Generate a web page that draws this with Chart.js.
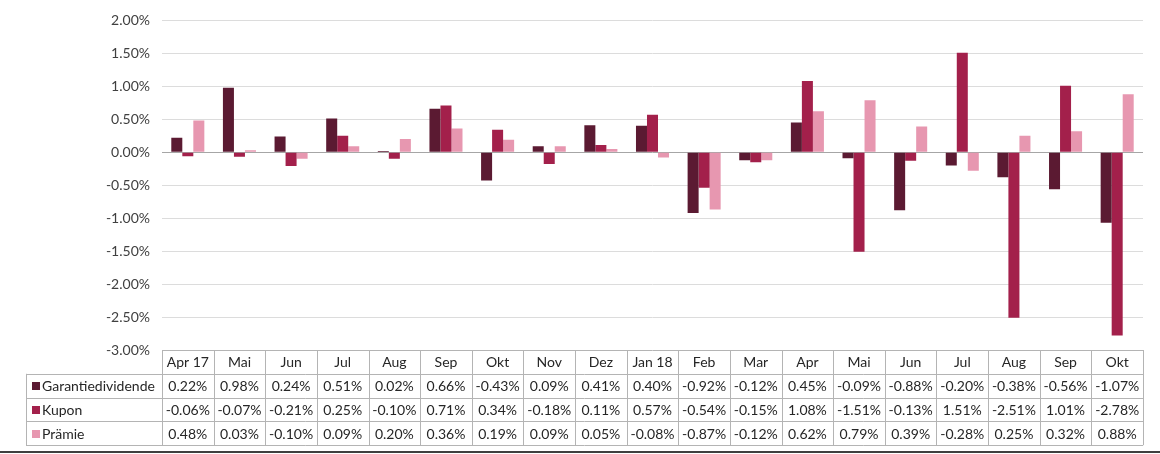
<!DOCTYPE html>
<html>
<head>
<meta charset="utf-8">
<script src="https://cdn.jsdelivr.net/npm/chart.js@4.4.0/dist/chart.umd.min.js"></script>
<style>
  html, body { margin: 0; padding: 0; background: #fff; }
  #wrap { width: 1160px; height: 454px; position: relative; }
</style>
</head>
<body>
<div id="wrap"><canvas id="myChart" width="1160" height="454"></canvas></div>
<script>
const months = ['Apr 17', 'Mai', 'Jun', 'Jul', 'Aug', 'Sep', 'Okt', 'Nov', 'Dez', 'Jan 18',
  'Feb', 'Mar', 'Apr', 'Mai', 'Jun', 'Jul', 'Aug', 'Sep', 'Okt'];
const garantie = [0.22, 0.98, 0.24, 0.51, 0.02, 0.66, -0.43, 0.09, 0.41, 0.40,
  -0.92, -0.12, 0.45, -0.09, -0.88, -0.20, -0.38, -0.56, -1.07];
const kupon = [-0.06, -0.07, -0.21, 0.25, -0.10, 0.71, 0.34, -0.18, 0.11, 0.57,
  -0.54, -0.15, 1.08, -1.51, -0.13, 1.51, -2.51, 1.01, -2.78];
const praemie = [0.48, 0.03, -0.10, 0.09, 0.20, 0.36, 0.19, 0.09, 0.05, -0.08,
  -0.87, -0.12, 0.62, 0.79, 0.39, -0.28, 0.25, 0.32, 0.88];
const seriesNames = ['Garantiedividende', 'Kupon', 'Prämie'];
const seriesColors = ['#5b1a32', '#a3204b', '#e797b0'];

const FONT = 'Lato, "Open Sans", sans-serif';

// data table drawn under the plot, aligned to the x scale
const tablePlugin = {
  id: 'dataTable',
  afterDraw(chart) {
    const ctx = chart.ctx;
    const x = chart.scales.x;
    const area = chart.chartArea;
    const n = months.length;
    const w = (area.right - area.left) / n;
    const top = area.bottom;
    const rowH = 23.8;
    const labelLeft = 26;
    const bottom = top + rowH * 4;
    ctx.save();
    ctx.strokeStyle = '#b4b4b4';
    ctx.lineWidth = 1;
    ctx.beginPath();
    // horizontal lines
    ctx.moveTo(area.left, top + 0.5);
    ctx.lineTo(area.right, top + 0.5);
    for (let r = 1; r <= 4; r++) {
      const yy = Math.round(top + rowH * r) + 0.5;
      ctx.moveTo(labelLeft, yy);
      ctx.lineTo(area.right, yy);
    }
    // vertical lines
    for (let i = 0; i <= n; i++) {
      const xx = Math.round(area.left + w * i) + 0.5;
      ctx.moveTo(xx, top);
      ctx.lineTo(xx, bottom);
    }
    ctx.moveTo(labelLeft + 0.5, top + rowH);
    ctx.lineTo(labelLeft + 0.5, bottom);
    ctx.stroke();

    ctx.font = '14px ' + FONT;
    ctx.fillStyle = '#262626';
    ctx.textBaseline = 'middle';
    ctx.textAlign = 'center';
    months.forEach((m, i) => {
      ctx.fillText(m, x.getPixelForValue(i), top + rowH / 2 + 1);
    });
    const rows = [garantie, kupon, praemie];
    rows.forEach((vals, r) => {
      const cy = top + rowH * (r + 1) + rowH / 2 + 1;
      ctx.textAlign = 'center';
      ctx.fillStyle = '#262626';
      vals.forEach((v, i) => {
        ctx.fillText(v.toFixed(2) + '%', x.getPixelForValue(i), cy);
      });
      ctx.fillStyle = seriesColors[r];
      ctx.fillRect(32, Math.round(cy - 4.5), 8, 8);
      ctx.fillStyle = '#262626';
      ctx.textAlign = 'left';
      ctx.fillText(seriesNames[r], 42, cy);
    });
    // dark rule along the bottom
    ctx.strokeStyle = '#3f3f3f';
    ctx.lineWidth = 2;
    ctx.beginPath();
    ctx.moveTo(0, 452);
    ctx.lineTo(1160, 452);
    ctx.stroke();
    ctx.restore();
  }
};

const data = {
  labels: months,
  datasets: [
    { label: seriesNames[0], data: garantie, backgroundColor: seriesColors[0] },
    { label: seriesNames[1], data: kupon, backgroundColor: seriesColors[1] },
    { label: seriesNames[2], data: praemie, backgroundColor: seriesColors[2] }
  ]
};

const config = {
  type: 'bar',
  data: data,
  options: {
    responsive: false,
    animation: false,
    layout: { padding: { top: 16, right: 17, bottom: 104, left: 0 } },
    datasets: {
      bar: { categoryPercentage: 0.64, barPercentage: 1, borderWidth: 0 }
    },
    plugins: {
      legend: { display: false },
      tooltip: { enabled: false }
    },
    scales: {
      x: {
        display: false
      },
      y: {
        min: -3,
        max: 2,
        afterFit(scale) { scale.width = 162; },
        ticks: {
          stepSize: 0.5,
          padding: 12,
          color: '#404040',
          font: { family: FONT, size: 14 },
          callback: v => v.toFixed(2) + '%'
        },
        grid: {
          drawTicks: false,
          color: ctx => ctx.tick.value === 0 ? '#a6a6a6' : (ctx.tick.value === -3 ? 'rgba(0,0,0,0)' : '#dcdcdc')
        },
        border: { display: false }
      }
    }
  },
  plugins: [tablePlugin]
};

const myChart = new Chart(document.getElementById('myChart'), config);
</script>
</body>
</html>
